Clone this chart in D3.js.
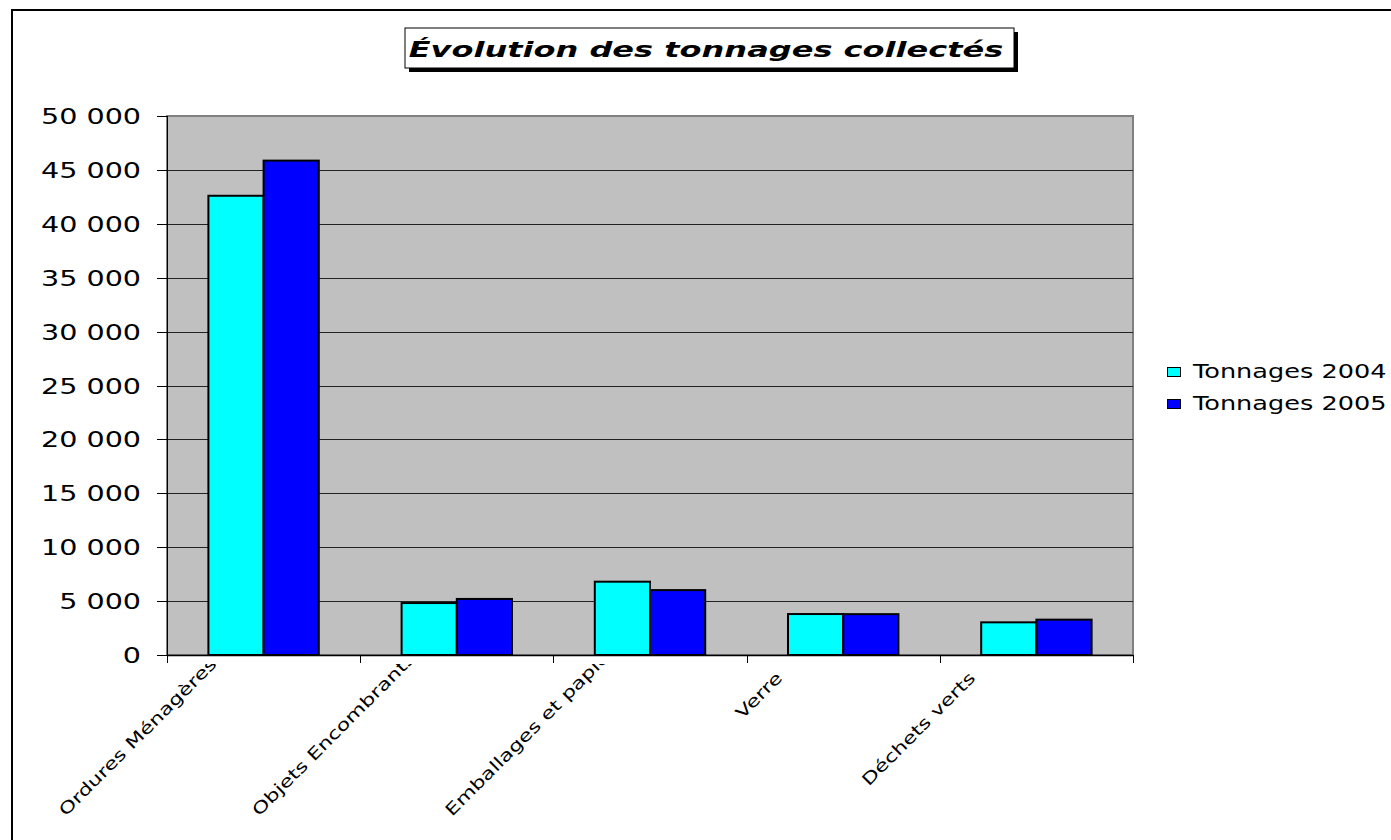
<!DOCTYPE html>
<html lang="fr">
<head>
    <meta charset="UTF-8">
    <title>Évolution des tonnages collectés</title>
    <script src="https://d3js.org/d3.v7.min.js"></script>
    <style>
        body, html {
          margin: 0;
          padding: 0;
          width: 100%;
          height: 100%;
          overflow: hidden;
          background: #fff;
        }
        svg {
          display: block;
          font-family: "DejaVu Sans", Verdana, sans-serif;
        }
    </style>
</head>
<body>
<svg></svg>
<script>
    const categories = ["Ordures Ménagères", "Objets Encombrants", "Emballages et papiers", "Verre", "Déchets verts"];
    const seriesNames = ["Tonnages 2004", "Tonnages 2005"];
    const tonnages2004 = [42600, 4820, 6800, 3800, 3030];
    const tonnages2005 = [45860, 5200, 6020, 3790, 3280];
    const yTicks = [0, 5000, 10000, 15000, 20000, 25000, 30000, 35000, 40000, 45000, 50000];
    const colors = ["#00FFFF", "#0000FF"];

    const width = 1391, height = 840;
    const plot = {left: 167, right: 1133, top: 116, bottom: 655};
    const stretch = 1.33;  // the original text is drawn wide

    const svg = d3.select("svg")
      .attr("width", width)
      .attr("height", height);

    // outer chart frame (runs past the window on the right and bottom)
    svg.append("rect")
      .attr("x", 12).attr("y", 10)
      .attr("width", 1400).attr("height", 850)
      .attr("fill", "#fff")
      .attr("stroke", "#000")
      .attr("stroke-width", 2);

    // title box with shadow
    svg.append("rect")
      .attr("x", 409).attr("y", 32).attr("width", 609).attr("height", 40)
      .attr("fill", "#000");
    svg.append("rect")
      .attr("x", 405).attr("y", 28).attr("width", 609).attr("height", 40)
      .attr("fill", "#fff").attr("stroke", "#000").attr("stroke-width", 1);
    svg.append("g")
      .attr("transform", "translate(706,57) scale(1.49,1)")
      .append("text")
      .attr("text-anchor", "middle")
      .attr("font-size", 21.5)
      .attr("font-weight", "bold")
      .attr("font-style", "italic")
      .text("Évolution des tonnages collectés");

    const x0 = d3.scaleBand()
      .domain(categories)
      .range([plot.left, plot.right])
      .padding(0);

    const x1 = d3.scaleBand()
      .domain(seriesNames)
      .range([0, x0.bandwidth()])
      .paddingInner(0)
      .paddingOuter(0.75);

    const y = d3.scaleLinear()
      .domain([0, 50000])
      .range([plot.bottom, plot.top]);

    const fmt = d3.formatLocale({decimal: ",", thousands: " ", grouping: [3], currency: ["", " €"]}).format(",d");

    // plot background
    svg.append("rect")
      .attr("x", plot.left).attr("y", plot.top)
      .attr("width", plot.right - plot.left)
      .attr("height", plot.bottom - plot.top)
      .attr("fill", "#C0C0C0")
      .attr("stroke", "#808080")
      .attr("stroke-width", 2);

    // gridlines
    svg.append("g")
      .selectAll("line")
      .data(yTicks.filter(d => d > 0 && d < 50000))
      .enter().append("line")
        .attr("x1", plot.left).attr("x2", plot.right)
        .attr("y1", d => Math.round(y(d)) + 0.5)
        .attr("y2", d => Math.round(y(d)) + 0.5)
        .attr("stroke", "#222")
        .attr("stroke-width", 1);

    // bars
    const data = categories.map((c, i) => ({cat: c, values: [tonnages2004[i], tonnages2005[i]]}));
    svg.append("g")
      .selectAll("g")
      .data(data)
      .enter().append("g")
        .attr("transform", d => `translate(${x0(d.cat)},0)`)
      .selectAll("rect")
      .data(d => d.values.map((v, j) => ({key: seriesNames[j], value: v, j})))
      .enter().append("rect")
        .attr("x", d => x1(d.key))
        .attr("y", d => y(d.value))
        .attr("width", x1.bandwidth())
        .attr("height", d => y(0) - y(d.value))
        .attr("fill", d => colors[d.j])
        .attr("stroke", "#000")
        .attr("stroke-width", 2);

    // y axis
    const yAxis = svg.append("g");
    yAxis.append("line")
      .attr("x1", plot.left + 0.5).attr("x2", plot.left + 0.5)
      .attr("y1", plot.top).attr("y2", plot.bottom)
      .attr("stroke", "#000");
    const yt = yAxis.selectAll(".ytick")
      .data(yTicks)
      .enter().append("g")
        .attr("class", "ytick")
        .attr("transform", d => `translate(0,${Math.round(y(d)) + 0.5})`);
    yt.append("line")
      .attr("x1", plot.left - 10).attr("x2", plot.left)
      .attr("stroke", "#000");
    yt.append("g")
      .attr("transform", `translate(141,0) scale(${stretch},1)`)
      .append("text")
        .attr("text-anchor", "end")
        .attr("dy", "0.36em")
        .attr("font-size", 21.5)
        .text(d => fmt(d));

    // x axis
    const xAxis = svg.append("g");
    xAxis.append("line")
      .attr("x1", plot.left).attr("x2", plot.right)
      .attr("y1", plot.bottom + 0.5).attr("y2", plot.bottom + 0.5)
      .attr("stroke", "#000").attr("stroke-width", 1.5);
    xAxis.selectAll(".xtick")
      .data(categories.concat([null]))
      .enter().append("line")
        .attr("x1", (d, i) => Math.round(plot.left + i * x0.step()) + 0.5)
        .attr("x2", (d, i) => Math.round(plot.left + i * x0.step()) + 0.5)
        .attr("y1", plot.bottom).attr("y2", plot.bottom + 8)
        .attr("stroke", "#000");

    // rotated category labels, long ones are cut at the axis like in the original
    svg.append("clipPath").attr("id", "labclip")
      .append("rect").attr("x", 0).attr("y", 664).attr("width", width).attr("height", height);
    const labels = svg.append("g").attr("clip-path", "url(#labclip)");
    const maxLen = 195;
    const endY = 679;
    categories.forEach(c => {
      const cx = x0(c) + x0.bandwidth() / 2;
      const ex = cx - 60;
      const g = labels.append("g");
      const t = g.append("text")
        .attr("font-size", 16.5)
        .text(c);
      const len = t.node().getComputedTextLength() * stretch;
      if (len > maxLen) {
        const sx = ex - maxLen * Math.SQRT1_2;
        const sy = endY + maxLen * Math.SQRT1_2;
        t.attr("text-anchor", "start");
        g.attr("transform", `translate(${sx},${sy}) rotate(-45) scale(${stretch},1)`);
      } else {
        t.attr("text-anchor", "end");
        g.attr("transform", `translate(${ex},${endY}) rotate(-45) scale(${stretch},1)`);
      }
    });

    // legend
    const legend = svg.append("g");
    seriesNames.forEach((s, i) => {
      const ly = 378 + i * 32;
      legend.append("rect")
        .attr("x", 1167.5).attr("y", ly - 10.5)
        .attr("width", 13).attr("height", 9)
        .attr("fill", colors[i])
        .attr("stroke", "#000");
      legend.append("g")
        .attr("transform", `translate(1193,${ly}) scale(1.36,1)`)
        .append("text")
          .attr("font-size", 18.8)
          .text(s);
    });
</script>
</body>
</html>
